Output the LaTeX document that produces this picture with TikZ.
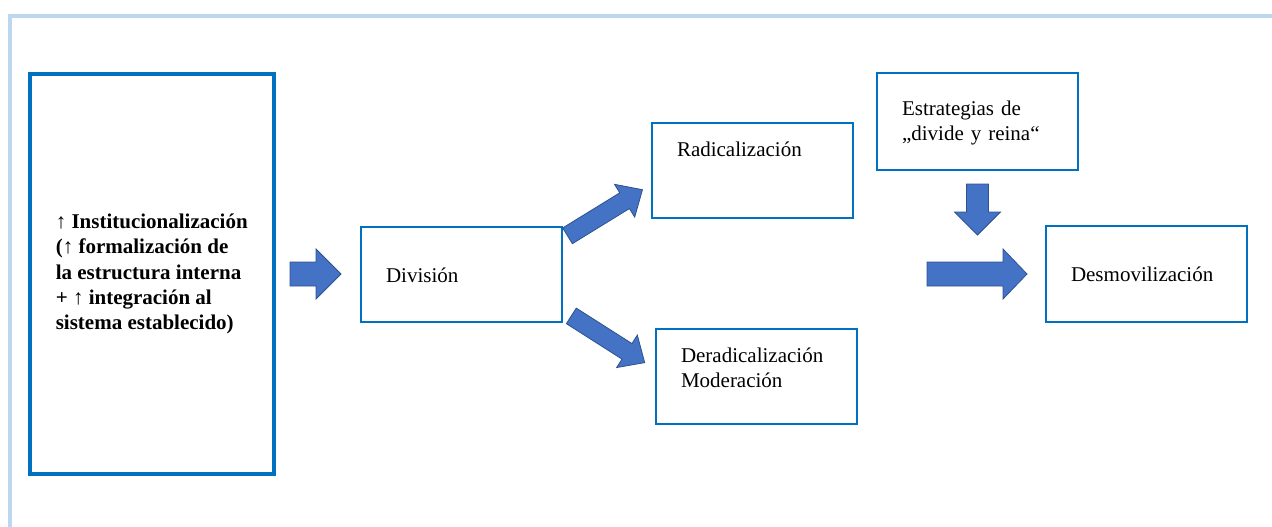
\documentclass[tikz,border=0pt]{standalone}
\usepackage{fontspec}
\setmainfont{Liberation Serif}
\usetikzlibrary{
    positioning,   % For relative placement of nodes (e.g., right=of)
    calc           % For midpoints between the boxes
}
\definecolor{boxblue}{HTML}{0070C0}
\definecolor{arrowblue}{HTML}{4472C4}
\definecolor{arrowedge}{HTML}{2F528F}
\definecolor{frameblue}{HTML}{BDD7EE}

\begin{document}
\begin{tikzpicture}[
    x=1pt, y=-1pt,
    font=\fontsize{21}{25.5}\selectfont,
    wbox/.style={draw=boxblue, line width=2pt, inner xsep=25pt, inner ysep=0pt,
                 outer sep=0pt, text width=151pt, align=left},
    pics/blockarrow/.style args={#1/#2}{code={
        \filldraw[fill=arrowblue, draw=arrowedge, line width=0.8pt]
            ({-#1/2},-12) -- ({#1/2-#2},-12) -- ({#1/2-#2},-25) -- ({#1/2},0)
            -- ({#1/2-#2},25) -- ({#1/2-#2},12) -- ({-#1/2},12) -- cycle;
    }}
]
    \useasboundingbox (0,0) rectangle (1272,527);

    % --- The Frame ---
    \draw[frameblue, line width=4pt] (10,527) -- (10,16) -- (1272,16);

    % --- The Boxes ---
    \node[draw=boxblue, line width=4pt, minimum width=244.5pt, minimum height=400pt,
          inner sep=0pt, outer sep=0pt, align=left,
          font=\fontsize{21}{25.25}\selectfont\bfseries]
    (inst) at (151.75,274)
    {↑ Institucionalización\\(↑ formalización de\\la estructura interna\\+ ↑ integración al\\sistema establecido)};

    \node[wbox, text height=56pt, text depth=39pt, right=87pt of inst] (div) {División};
    \node[wbox, text height=33pt, text depth=62pt, anchor=north west] (rad) at (652,123) {Radicalización};
    \node[wbox, text height=33pt, text depth=62pt, anchor=north west] (derad) at (656,329)
        {Deradicalización\\Moderación};
    \node[wbox, text height=42pt, text depth=55pt, anchor=north west] (estr) at (877,73)
        {Estrategias de\\„divide y reina“};
    \node[wbox, text height=55pt, text depth=41pt, anchor=north west] (desm) at (1046,226)
        {Desmovilización};

    % --- The Block Arrows ---
    \pic at ($(inst.east)!0.5!(div.west)+(-2,0)$) {blockarrow=51/25};
    \pic[rotate=31.6, yscale=0.77] at ($(div.north east)!0.5!(rad.south west)+(-2,-9.5)$) {blockarrow=88/21};
    \pic[rotate=-32.5, yscale=0.77] at ($(div.south east)!0.5!(derad.north west)+(-1,14)$) {blockarrow=87/21};
    \pic[rotate=-90, yscale=0.92] at ($(estr.south)+(0,39.5)$) {blockarrow=51/23};
    \pic at ($(desm.west)+(-69,0)$) {blockarrow=100/24};
\end{tikzpicture}
\end{document}
